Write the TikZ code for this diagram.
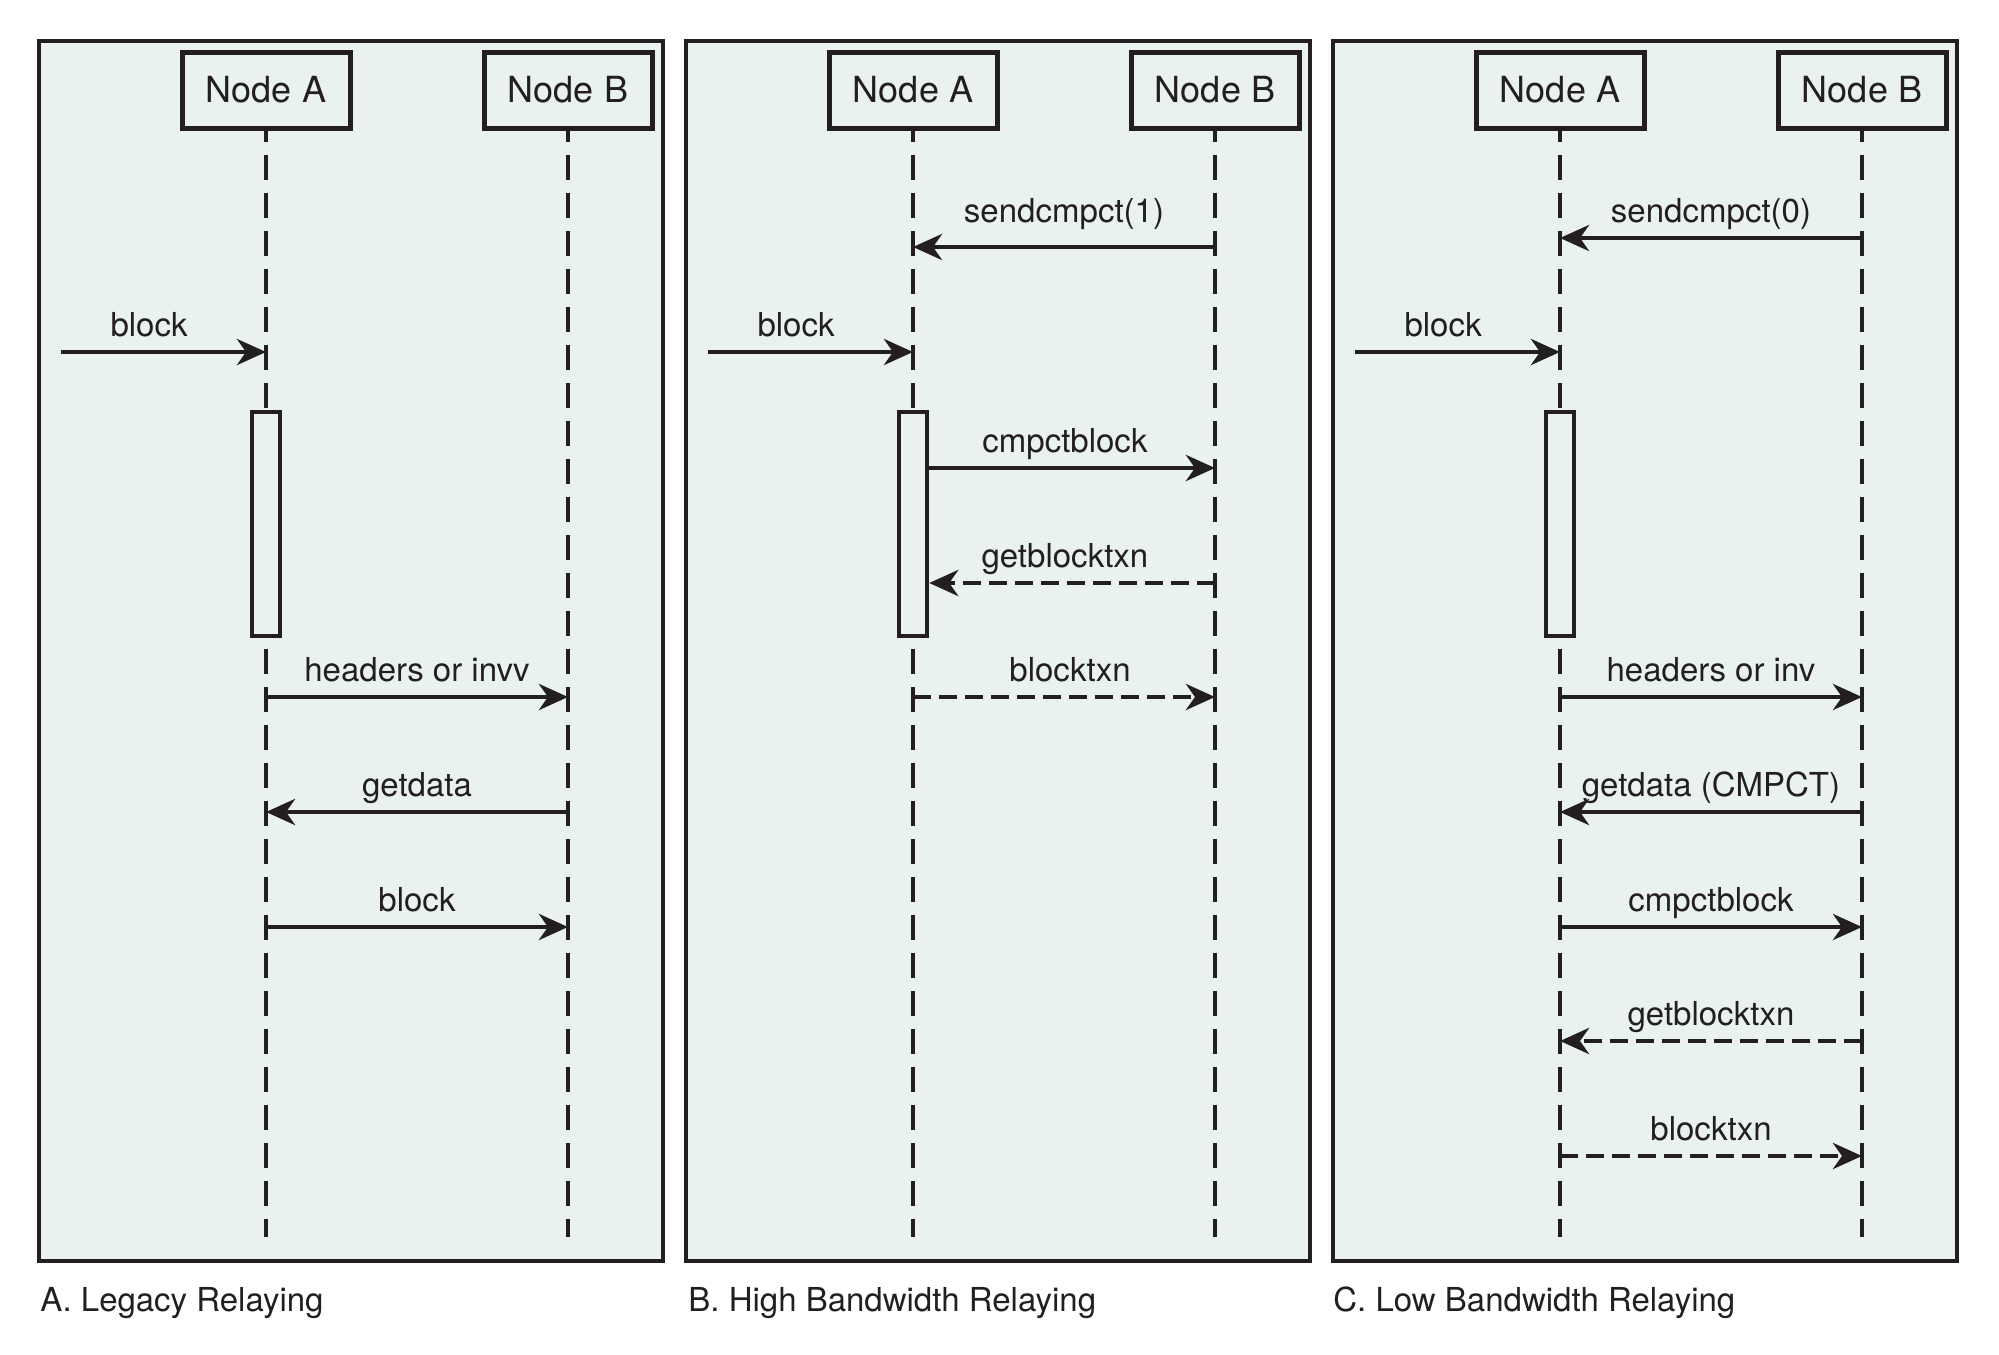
\documentclass[tikz,border=0pt]{standalone}
\usepackage{fontspec}
\setmainfont{TeX Gyre Heros}
\usetikzlibrary{arrows.meta}
\definecolor{panelbg}{RGB}{234,241,241}
\definecolor{ink}{RGB}{35,31,32}
\tikzstyle{panel} = [draw=ink, fill=panelbg, line width=2.3pt]
\tikzstyle{peer} = [draw=ink, fill=panelbg, line width=2.5pt, minimum width=84pt, minimum height=38pt, inner sep=0pt, text=ink, font=\fontsize{18}{22}\selectfont]
\tikzstyle{lifeline} = [draw=ink, line width=2.1pt, dash pattern=on 12.5pt off 6.5pt, dash phase=7pt]
\tikzstyle{active} = [draw=ink, fill=panelbg, line width=2.2pt, minimum width=14pt, minimum height=112pt, inner sep=0pt]
\tikzstyle{msg} = [draw=ink, line width=2.3pt, -{Stealth[length=14.5pt, width=13pt, inset=4.5pt]}]
\tikzstyle{reply} = [msg, dash pattern=on 9pt off 4pt]
\tikzstyle{lbl} = [anchor=base, yshift=8pt, inner sep=0pt, text=ink, font=\fontsize{16.5}{20}\selectfont]
\tikzstyle{caption} = [anchor=base west, inner sep=0pt, text=ink, font=\fontsize{16.5}{20}\selectfont]

\begin{document}
\begin{tikzpicture}[x=0.5pt, y=-0.5pt]
	\useasboundingbox (0,0) rectangle (1999,1355);
	\draw[panel] (39,41) rectangle (663,1261);
	\draw[panel] (686,41) rectangle (1310,1261);
	\draw[panel] (1333,41) rectangle (1957,1261);

	% A. legacy
	\node[peer] (a1) at (266,90) {Node A};
	\node[peer] (b1) at (568,90) {Node B};
	\coordinate (a1-end) at (266,1237);
	\coordinate (b1-end) at (568,1237);
	\draw[lifeline] (a1) -- (a1-end);
	\draw[lifeline] (b1) -- (b1-end);
	\node[active] (act1) at (266,524) {};

	\coordinate (src1) at (61,352);
	\coordinate (a1-blk) at (266,352);
	\coordinate (a1-hdr) at (266,697);
	\coordinate (b1-hdr) at (568,697);
	\coordinate (a1-get) at (266,812);
	\coordinate (b1-get) at (568,812);
	\coordinate (a1-full) at (266,927);
	\coordinate (b1-full) at (568,927);
	\draw[msg] (src1) -- node[lbl, pos=0.43] {block} (a1-blk);
	\draw[msg] (a1-hdr) -- node[lbl] {headers or invv} (b1-hdr);
	\draw[msg] (b1-get) -- node[lbl] {getdata} (a1-get);
	\draw[msg] (a1-full) -- node[lbl] {block} (b1-full);
	\node[caption] (cap1) at (40,1311) {A. Legacy Relaying};

	% B. high bandwidth
	\node[peer] (a2) at (913,90) {Node A};
	\node[peer] (b2) at (1215,90) {Node B};
	\coordinate (a2-end) at (913,1237);
	\coordinate (b2-end) at (1215,1237);
	\draw[lifeline] (a2) -- (a2-end);
	\draw[lifeline] (b2) -- (b2-end);
	\node[active] (act2) at (913,524) {};

	\coordinate (a2-snd) at (913,247);
	\coordinate (b2-snd) at (1215,247);
	\coordinate (src2) at (708,352);
	\coordinate (a2-blk) at (913,352);
	\coordinate (b2-cb) at (1215,468);
	\coordinate (b2-gbt) at (1215,583);
	\coordinate (a2-btx) at (913,697);
	\coordinate (b2-btx) at (1215,697);
	\draw[msg] (b2-snd) -- node[lbl, yshift=4.5pt] {sendcmpct(1)} (a2-snd);
	\draw[msg] (src2) -- node[lbl, pos=0.43] {block} (a2-blk);
	\draw[msg] (act2.east |- b2-cb) -- node[lbl, pos=0.475] {cmpctblock} (b2-cb);
	\draw[reply] (b2-gbt) -- node[lbl, pos=0.525] {getblocktxn} (act2.east |- b2-gbt);
	\draw[reply] (a2-btx) -- node[lbl, pos=0.52] {blocktxn} (b2-btx);
	\node[caption] (cap2) at (688,1311) {B. High Bandwidth Relaying};

	% C. low bandwidth
	\node[peer] (a3) at (1560,90) {Node A};
	\node[peer] (b3) at (1862,90) {Node B};
	\coordinate (a3-end) at (1560,1237);
	\coordinate (b3-end) at (1862,1237);
	\draw[lifeline] (a3) -- (a3-end);
	\draw[lifeline] (b3) -- (b3-end);
	\node[active] (act3) at (1560,524) {};

	\coordinate (a3-snd) at (1560,238);
	\coordinate (b3-snd) at (1862,238);
	\coordinate (src3) at (1355,352);
	\coordinate (a3-blk) at (1560,352);
	\coordinate (a3-hdr) at (1560,697);
	\coordinate (b3-hdr) at (1862,697);
	\coordinate (a3-get) at (1560,812);
	\coordinate (b3-get) at (1862,812);
	\coordinate (a3-cb) at (1560,927);
	\coordinate (b3-cb) at (1862,927);
	\coordinate (a3-gbt) at (1560,1041);
	\coordinate (b3-gbt) at (1862,1041);
	\coordinate (a3-btx) at (1560,1156);
	\coordinate (b3-btx) at (1862,1156);
	\draw[msg] (b3-snd) -- node[lbl] {sendcmpct(0)} (a3-snd);
	\draw[msg] (src3) -- node[lbl, pos=0.43] {block} (a3-blk);
	\draw[msg] (a3-hdr) -- node[lbl] {headers or inv} (b3-hdr);
	\draw[msg] (b3-get) -- node[lbl] {getdata (CMPCT)} (a3-get);
	\draw[msg] (a3-cb) -- node[lbl] {cmpctblock} (b3-cb);
	\draw[reply] (b3-gbt) -- node[lbl] {getblocktxn} (a3-gbt);
	\draw[reply] (a3-btx) -- node[lbl] {blocktxn} (b3-btx);
	\node[caption] (cap3) at (1333,1311) {C. Low Bandwidth Relaying};
\end{tikzpicture}
\end{document}
